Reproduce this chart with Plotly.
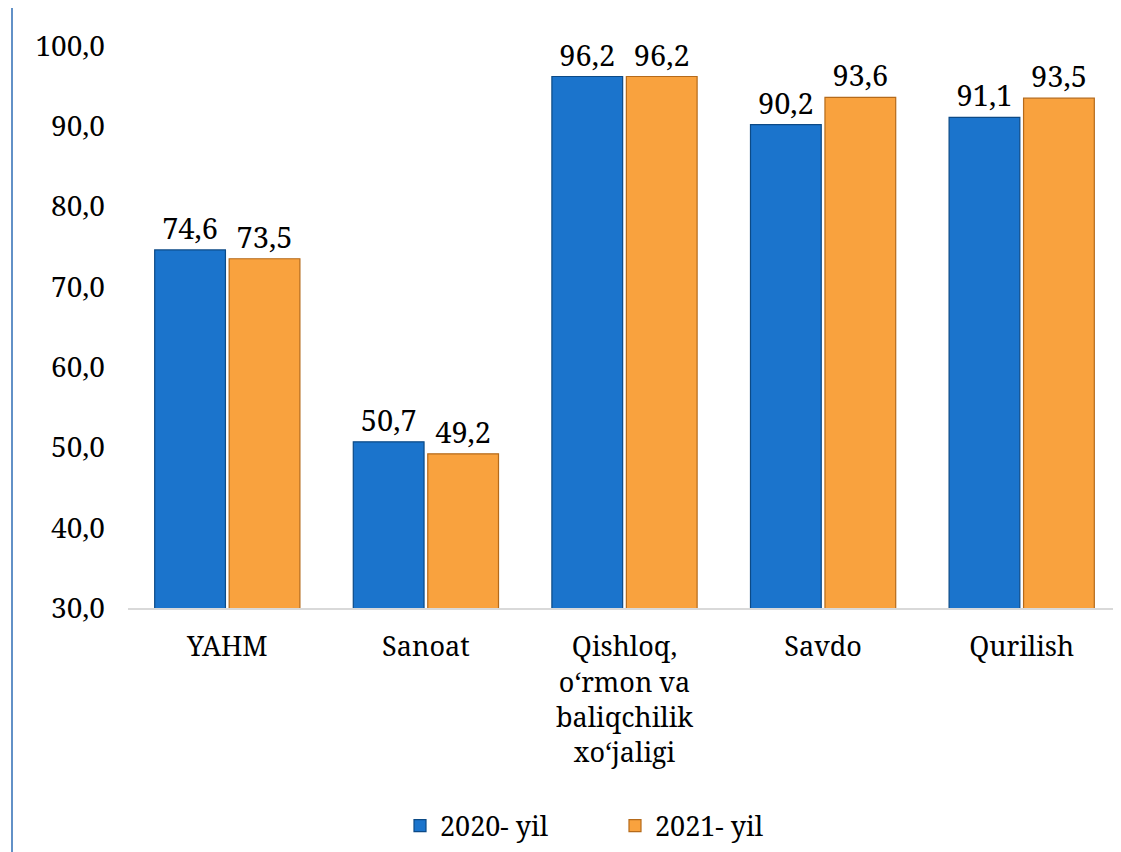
import plotly.graph_objects as go

categories = ["YAHM", "Sanoat", "Qishloq,<br>o‘rmon va<br>baliqchilik<br>xo‘jaligi", "Savdo", "Qurilish"]
series_names = ["2020- yil", "2021- yil"]
values_2020 = [74.6, 50.7, 96.2, 90.2, 91.1]
values_2021 = [73.5, 49.2, 96.2, 93.6, 93.5]
tick_vals = [30, 40, 50, 60, 70, 80, 90, 100]
tick_text = ["30,0", "40,0", "50,0", "60,0", "70,0", "80,0", "90,0", "100,0"]

FONT = "Noto Serif, DejaVu Serif, serif"

OFF = 8  # default body margin of the html page
W, H = 1121 - OFF, 852 - OFF
ML, MT = 128 - OFF, 46 - OFF
MB = 852 - 608
plot_h = H - MT - MB
plot_w = W - ML

fig = go.Figure()
fig.add_trace(go.Bar(
    x=categories, y=values_2020, name=series_names[0],
    marker=dict(color="#1B74CC", line=dict(color="#0C4A86", width=1.2)),
    texttemplate="%{y:.1f}", textposition="outside", cliponaxis=False,
    textfont=dict(family=FONT, size=29, color="#000000"),
))
fig.add_trace(go.Bar(
    x=categories, y=values_2021, name=series_names[1],
    marker=dict(color="#F9A23E", line=dict(color="#B56A1A", width=1.2)),
    texttemplate="%{y:.1f}", textposition="outside", cliponaxis=False,
    textfont=dict(family=FONT, size=29, color="#000000"),
))

fig.update_layout(
    width=W, height=H,
    margin=dict(l=ML, r=0, t=MT, b=MB, autoexpand=False),
    paper_bgcolor="white", plot_bgcolor="white",
    separators=", ",
    barmode="group", bargap=0.25, bargroupgap=0.05,
    font=dict(family=FONT, size=26, color="#000000"),
    showlegend=True,
    legend=dict(orientation="h", x=(400 - 128) / plot_w, xanchor="left",
                y=-(826 - 608) / plot_h, yanchor="middle",
                font=dict(family=FONT, size=27), itemwidth=30, traceorder="normal",
                entrywidthmode="pixels", entrywidth=170),
    xaxis=dict(showline=True, linecolor="#D9D9D9", linewidth=2, ticks="", automargin=False,
               tickfont=dict(family=FONT, size=27), showgrid=False, ticklabelstandoff=14),
    yaxis=dict(range=[30, 100], tickvals=tick_vals, ticktext=tick_text, showgrid=False,
               showline=False, zeroline=False, ticks="", ticklabelstandoff=22, automargin=False,
               tickfont=dict(family=FONT, size=28)),
    shapes=[dict(type="line", xref="paper", yref="paper",
                 x0=(12 - 128) / plot_w, x1=(12 - 128) / plot_w,
                 y0=-MB / plot_h, y1=1 + MT / plot_h,
                 line=dict(color="#2E6DB4", width=1.5))],
)

fig.write_html("out.html")
